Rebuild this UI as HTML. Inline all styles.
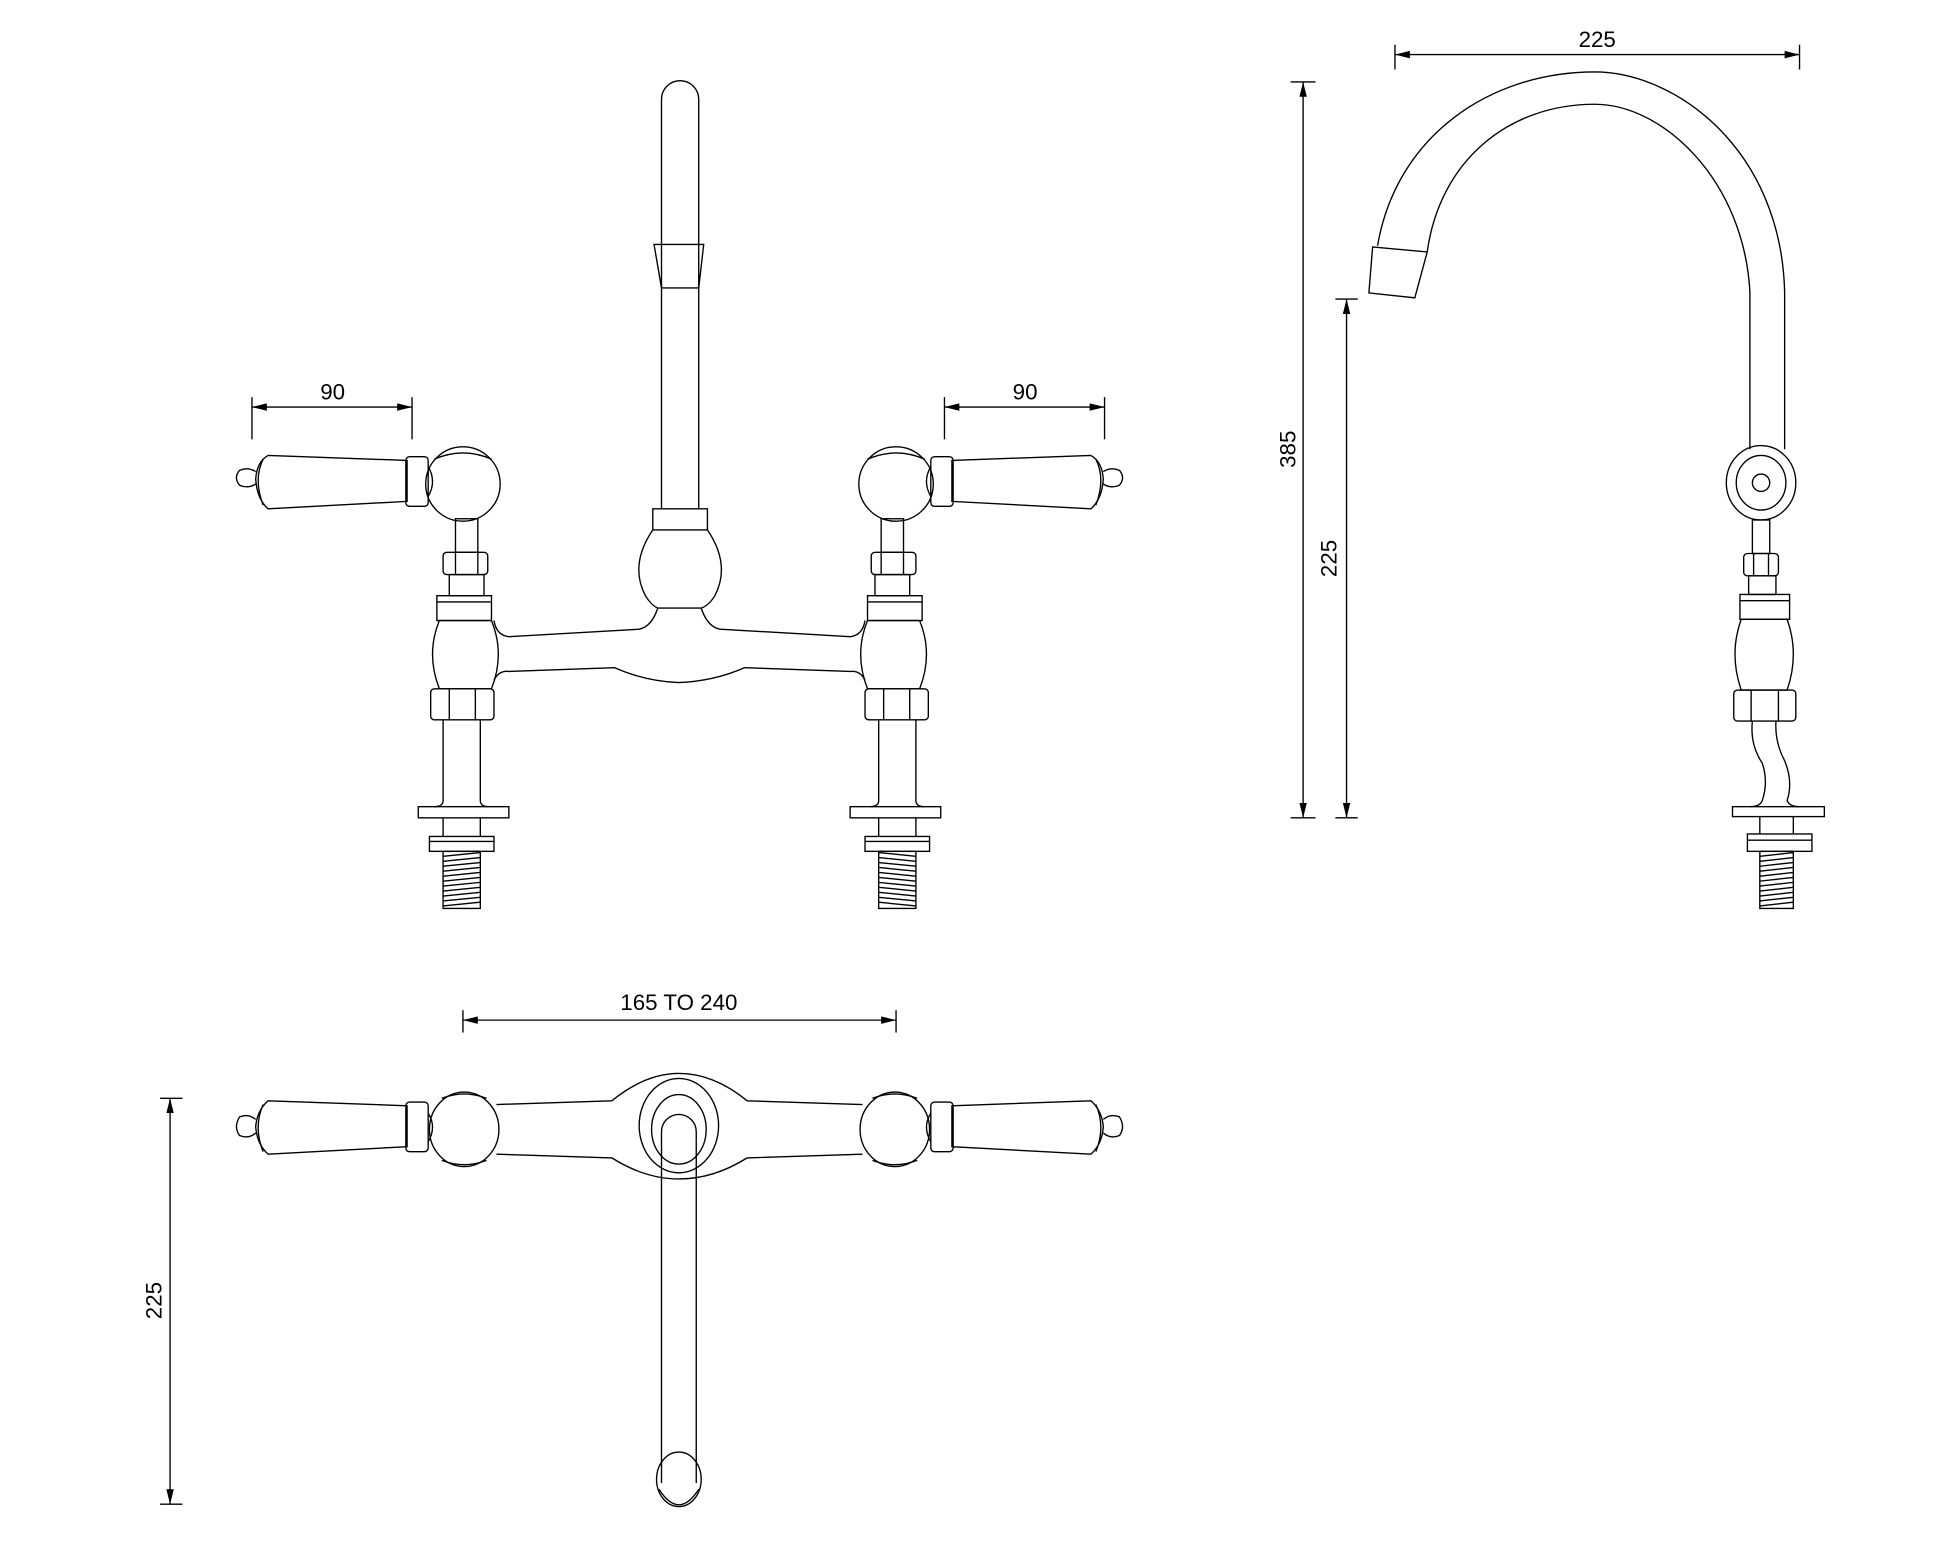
<!DOCTYPE html>
<html><head><meta charset="utf-8"><style>
html,body{margin:0;padding:0;background:#fff;}
svg{display:block;}
text{font-family:"Liberation Sans",sans-serif;font-size:18px;fill:#000;}
</style></head><body>
<svg width="1946" height="1557" viewBox="0 0 1568 1254.6" xmlns="http://www.w3.org/2000/svg">
<defs>
<marker id="ar" viewBox="0 0 12 6" refX="12" refY="3" markerWidth="12" markerHeight="6" orient="auto-start-reverse" markerUnits="userSpaceOnUse"><path d="M0,0 L12,3 L0,6 Z" fill="#000"/></marker>
<g id="lever">
 <path d="M328,371 L216,367 Q207,372 206,386 Q207,402 216,410 L328,404 Z"/>
 <path d="M212,370 Q204,386 212,407" />
 <path d="M206,380 Q200,376 193,379 Q188,385 193,391 Q200,394 206,390"/>
 <rect x="327" y="368" width="18" height="40" rx="3"/>
 <path d="M345,376 Q352,388 345,400"/>
</g>
<g id="valve">
 <use href="#lever"/>
 <ellipse cx="373" cy="390" rx="30" ry="30"/>
 <path d="M350,370 Q373,360 396,370"/>
 <rect x="367" y="418" width="18" height="27"/>
 <rect x="357" y="445" width="36" height="18" rx="3"/>
 <line x1="367" y1="445" x2="367" y2="463"/><line x1="385" y1="445" x2="385" y2="463"/>
 <rect x="362" y="463" width="28" height="17"/>
 <rect x="352" y="480" width="44" height="20"/>
 <line x1="352" y1="485" x2="396" y2="485"/>
 <path d="M354,500 Q343,527 354,555 L396,555 Q407,527 396,500 Z"/>
 <rect x="347" y="555" width="51" height="25" rx="3"/>
 <line x1="362" y1="555" x2="362" y2="580"/><line x1="383" y1="555" x2="383" y2="580"/>
 <path d="M357,580 L357,645 Q357,650 350,650 M387,580 L387,645 Q387,650 394,650"/>
 <rect x="337" y="650" width="73" height="9"/>
 <line x1="357" y1="659" x2="357" y2="674"/><line x1="387" y1="659" x2="387" y2="674"/>
 <rect x="346" y="674" width="52" height="12"/>
 <line x1="346" y1="678" x2="398" y2="678"/>
 <rect x="357" y="686" width="30" height="46"/>
 <path d="M357,690 L387,687 M357,694 L387,691 M357,698 L387,695 M357,702 L387,699 M357,706 L387,703 M357,710 L387,707 M357,714 L387,711 M357,718 L387,715 M357,722 L387,719 M357,726 L387,723 M357,730 L387,727"/>
</g>
<g id="tlever">
 <path d="M328,891 L216,887 Q207,895 206,908 Q207,922 216,930 L328,924 Z"/>
 <path d="M212,890 Q204,908 212,928"/>
 <path d="M206,902 Q200,897 193,900 Q188,908 193,915 Q200,918 206,913"/>
 <rect x="327" y="888" width="18" height="40" rx="3"/>
 <path d="M345,897 Q352,908 345,920"/>
 <ellipse cx="374" cy="910" rx="28" ry="30"/>
 <path d="M356,885 Q374,878 392,885 M356,935 Q374,942 392,935"/>
</g>
</defs>
<g fill="none" stroke="#000" stroke-width="1.1">
<use href="#valve"/>
<use href="#valve" transform="translate(1095,0) scale(-1,1)"/>
<path d="M533,410 L533,80 A15,15 0 0 1 563,80 L563,410"/>
<path d="M527,197 L567,197 L563,232 L533,232 Z"/>
<rect x="526" y="410" width="44" height="17"/>
<path d="M526,427 Q507,455 520,480 Q525,488 530,490 L565,490 Q571,488 576,480 Q589,455 570,427"/>
<path d="M398,500 Q400,512 410,513 L515,507 Q525,505 530,490"/>
<path d="M697,500 Q695,512 685,513 L580,507 Q570,505 565,490"/>
<path d="M398,548 Q402,540 410,541 L495,538 Q520,549 547,550 Q575,549 600,538 L685,541 Q693,540 697,548"/>
<line x1="203" y1="320" x2="203" y2="354"/><line x1="332" y1="320" x2="332" y2="354"/>
<line x1="203" y1="328" x2="332" y2="328" marker-start="url(#ar)" marker-end="url(#ar)"/>
<line x1="761" y1="320" x2="761" y2="354"/><line x1="890" y1="320" x2="890" y2="354"/>
<line x1="761" y1="328" x2="890" y2="328" marker-start="url(#ar)" marker-end="url(#ar)"/>
<line x1="1124" y1="36" x2="1124" y2="56"/><line x1="1450" y1="36" x2="1450" y2="56"/>
<line x1="1124" y1="44" x2="1450" y2="44" marker-start="url(#ar)" marker-end="url(#ar)"/>
<line x1="1040" y1="66" x2="1060" y2="66"/><line x1="1040" y1="659" x2="1060" y2="659"/>
<line x1="1050" y1="66" x2="1050" y2="659" marker-start="url(#ar)" marker-end="url(#ar)"/>
<line x1="1076" y1="241" x2="1094" y2="241"/><line x1="1076" y1="659" x2="1094" y2="659"/>
<line x1="1085" y1="241" x2="1085" y2="659" marker-start="url(#ar)" marker-end="url(#ar)"/>
<path d="M1438,362 L1438,235 C1435,120 1350,58 1285,58 C1200,58 1125,110 1110,198"/>
<path d="M1410,362 L1410,235 C1405,145 1340,84 1285,84 C1215,84 1160,130 1150,203"/>
<path d="M1106,199 L1150,203 L1140,240 L1103,236 Z"/>
<ellipse cx="1419" cy="389" rx="28" ry="30"/>
<ellipse cx="1419" cy="389" rx="20" ry="22"/>
<circle cx="1419" cy="389" r="7"/>
<rect x="1412" y="419" width="14" height="27"/>
<rect x="1405" y="446" width="28" height="18" rx="3"/>
<line x1="1413" y1="446" x2="1413" y2="464"/><line x1="1425" y1="446" x2="1425" y2="464"/>
<rect x="1409" y="464" width="22" height="15"/>
<rect x="1402" y="479" width="40" height="20"/>
<line x1="1402" y1="484" x2="1442" y2="484"/>
<path d="M1403,499 Q1393,527 1403,556 L1440,556 Q1450,527 1440,499 Z"/>
<rect x="1397" y="556" width="50" height="25" rx="3"/>
<line x1="1411" y1="556" x2="1411" y2="581"/><line x1="1433" y1="556" x2="1433" y2="581"/>
<path d="M1412,581 Q1410,600 1420,615 Q1425,630 1420,645 Q1418,650 1410,650"/>
<path d="M1431,581 Q1430,598 1438,613 Q1445,630 1440,645 Q1442,650 1450,650"/>
<rect x="1396" y="650" width="74" height="8"/>
<line x1="1418" y1="658" x2="1418" y2="672"/><line x1="1445" y1="658" x2="1445" y2="672"/>
<rect x="1408" y="672" width="52" height="14"/>
<line x1="1408" y1="677" x2="1460" y2="677"/>
<rect x="1418" y="686" width="27" height="46"/>
<path d="M1418,690 L1445,687 M1418,694 L1445,691 M1418,698 L1445,695 M1418,702 L1445,699 M1418,706 L1445,703 M1418,710 L1445,707 M1418,714 L1445,711 M1418,718 L1445,715 M1418,722 L1445,719 M1418,726 L1445,723 M1418,730 L1445,727"/>
<line x1="373" y1="814" x2="373" y2="832"/><line x1="722" y1="814" x2="722" y2="832"/>
<line x1="373" y1="822" x2="722" y2="822" marker-start="url(#ar)" marker-end="url(#ar)"/>
<line x1="129" y1="885" x2="147" y2="885"/><line x1="129" y1="1212" x2="147" y2="1212"/>
<line x1="137" y1="885" x2="137" y2="1212" marker-start="url(#ar)" marker-end="url(#ar)"/>
<use href="#tlever"/>
<use href="#tlever" transform="translate(1095,0) scale(-1,1)"/>
<path d="M400,890 L493,887 Q520,865 547,865 Q575,865 602,887 L695,890"/>
<path d="M400,930 L493,933 Q520,950 547,950 Q575,950 602,933 L695,930"/>
<ellipse cx="547" cy="907" rx="32" ry="38"/>
<ellipse cx="547" cy="910" rx="22" ry="28"/>
<path d="M533,1195 L533,912 A14,14 0 0 1 561,912 L561,1195"/>
<ellipse cx="547" cy="1192" rx="18" ry="22"/>
<path d="M531,1200 Q547,1225 563,1200"/>
</g>
<text x="268" y="322" text-anchor="middle">90</text>
<text x="826" y="322" text-anchor="middle">90</text>
<text x="1287" y="38" text-anchor="middle">225</text>
<text x="547" y="814" text-anchor="middle">165 TO 240</text>
<text transform="translate(1044,362) rotate(-90)" text-anchor="middle">385</text>
<text transform="translate(1077,450) rotate(-90)" text-anchor="middle">225</text>
<text transform="translate(130,1048) rotate(-90)" text-anchor="middle">225</text>
</svg>
</body></html>
